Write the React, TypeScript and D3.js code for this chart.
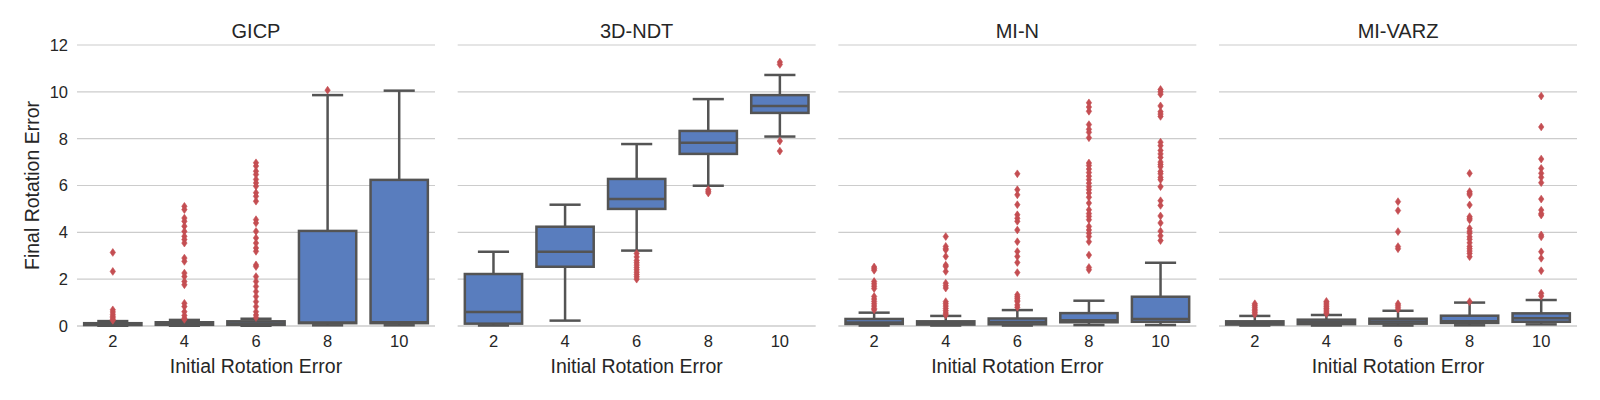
import React from "react";
import * as d3 from "d3";

// ---------- data ----------
const categories = [2, 4, 6, 8, 10];
const methods = ["GICP", "3D-NDT", "MI-N", "MI-VARZ"];
const yTicks = [0, 2, 4, 6, 8, 10, 12];

// stats per category: [whiskerLow, q1, median, q3, whiskerHigh]
const gicpStats = [
  [0.01, 0.04, 0.08, 0.12, 0.21],
  [0.01, 0.05, 0.1, 0.16, 0.26],
  [0.01, 0.05, 0.11, 0.2, 0.31],
  [0.03, 0.12, 0.15, 4.06, 9.86],
  [0.03, 0.12, 0.16, 6.24, 10.05],
];
const gicpOutliers = [
  [3.14, 2.33, 0.69, 0.6, 0.5, 0.42, 0.35, 0.28, 0.24],
  [5.11, 4.97, 4.61, 4.47, 4.26, 4.04, 3.83, 3.69, 3.54, 2.9, 2.76, 2.26, 2.11, 1.9, 1.76, 0.97, 0.83, 0.61, 0.45, 0.33, 0.28],
  [6.97, 6.83, 6.61, 6.47, 6.26, 6.11, 5.97, 5.69, 5.54, 5.33, 4.54, 4.4, 4.04, 3.76, 3.54, 3.33, 3.19, 2.61, 2.54, 2.11, 1.9, 1.69, 1.47, 1.26, 1.04, 0.83, 0.61, 0.47, 0.36],
  [10.07],
  [],
];

const ndtStats = [
  [0.02, 0.1, 0.6, 2.22, 3.17],
  [0.23, 2.53, 3.17, 4.24, 5.18],
  [3.22, 5.0, 5.42, 6.28, 7.77],
  [5.99, 7.35, 7.83, 8.33, 9.69],
  [8.09, 9.1, 9.39, 9.86, 10.72],
];
const ndtOutliers = [
  [],
  [],
  [3.1, 2.95, 2.8, 2.7, 2.6, 2.5, 2.4, 2.3, 2.2, 2.1, 2.0],
  [5.82, 5.75, 5.68],
  [11.27, 11.17, 7.9, 7.47],
];

const minStats = [
  [0.02, 0.085, 0.15, 0.3, 0.57],
  [0.02, 0.06, 0.12, 0.2, 0.43],
  [0.02, 0.07, 0.17, 0.32, 0.68],
  [0.04, 0.16, 0.25, 0.55, 1.08],
  [0.04, 0.18, 0.3, 1.25, 2.7],
];
const minOutliers = [
  [2.52, 2.45, 2.38, 1.9, 1.8, 1.7, 1.6, 1.26, 1.15, 1.05, 0.95, 0.85, 0.75, 0.69],
  [3.82, 3.4, 3.3, 3.25, 2.97, 2.6, 2.54, 2.33, 1.83, 1.72, 1.62, 1.04, 0.95, 0.85, 0.75, 0.65, 0.55, 0.47],
  [6.5, 5.82, 5.6, 5.18, 4.75, 4.6, 4.47, 4.1, 3.6, 3.18, 2.97, 2.71, 2.28, 1.33, 1.25, 1.18, 1.1, 1.04, 0.9, 0.8],
  [9.53, 9.35, 9.17, 8.6, 8.4, 8.27, 8.04, 6.96, 6.85, 6.7, 6.55, 6.4, 6.25, 6.1, 5.95, 5.82, 5.68, 5.5, 5.25, 4.96, 4.8, 4.68, 4.54, 4.25, 4.1, 3.96, 3.82, 3.6, 3.03, 2.5, 2.4],
  [10.1, 10.0, 9.9, 9.4, 9.15, 9.05, 8.95, 7.85, 7.7, 7.5, 7.35, 7.2, 7.0, 6.9, 6.8, 6.6, 6.5, 6.35, 6.25, 5.95, 5.35, 5.15, 4.7, 4.4, 4.05, 3.85, 3.65],
];

const varzStats = [
  [0.02, 0.06, 0.12, 0.2, 0.43],
  [0.02, 0.08, 0.17, 0.27, 0.47],
  [0.02, 0.1, 0.19, 0.31, 0.65],
  [0.03, 0.13, 0.2, 0.44, 1.0],
  [0.07, 0.18, 0.33, 0.54, 1.11],
];
const varzOutliers = [
  [0.95, 0.88, 0.8, 0.72, 0.65, 0.58, 0.5],
  [1.05, 0.98, 0.9, 0.82, 0.75, 0.68, 0.6, 0.53],
  [5.31, 4.93, 4.03, 3.39, 3.3, 0.95, 0.88, 0.8, 0.72],
  [6.52, 5.74, 5.67, 5.6, 5.17, 4.67, 4.6, 4.53, 4.17, 4.05, 3.96, 3.81, 3.7, 3.55, 3.4, 3.3, 3.2, 3.1, 2.96, 1.04],
  [9.82, 8.5, 7.13, 6.73, 6.52, 6.35, 6.12, 5.42, 4.95, 4.8, 4.74, 3.89, 3.81, 3.17, 2.89, 2.36, 1.4, 1.28],
];

const allStats = [gicpStats, ndtStats, minStats, varzStats];
const allOutliers = [gicpOutliers, ndtOutliers, minOutliers, varzOutliers];

// ---------- style ----------
const W = 1600;
const H = 400;
const FONT = "'Liberation Sans', Arial, sans-serif";
const TEXT = "#262626";
const GRID = "#cccccc";
const BOX_FILL = "#597dbe";
const LINE = "#545454";
const FLIER = "#c44e52";
const LW = 2.5;

const plotTop = 45;
const plotBottom = 326;
const panelW = 358;
const firstLeft = 77;
const panelGap = 22.67;

const y = d3.scaleLinear().domain([0, 12]).range([plotBottom, plotTop]);

function diamond(cx: number, cy: number) {
  const hw = 2.7;
  const hh = 3.9;
  return `M${cx},${cy - hh}L${cx + hw},${cy}L${cx},${cy + hh}L${cx - hw},${cy}Z`;
}

function Panel({ idx }: { idx: number }) {
  const left = firstLeft + idx * (panelW + panelGap);
  const x = d3
    .scaleBand<number>()
    .domain(categories)
    .range([left, left + panelW])
    .paddingInner(0)
    .paddingOuter(0);
  const step = x.step();
  const bw = step * 0.8;
  const capW = bw / 2;
  const stats = allStats[idx];
  const outs = allOutliers[idx];
  const cx = (c: number) => (x(c) as number) + step / 2;

  return (
    <g>
      {yTicks.map((t) => (
        <line
          key={"g" + t}
          x1={left}
          x2={left + panelW}
          y1={y(t)}
          y2={y(t)}
          stroke={GRID}
          strokeWidth={t === 0 ? 1.3 : 1.1}
        />
      ))}
      {idx === 0 &&
        yTicks.map((t) => (
          <text
            key={"yt" + t}
            x={left - 9}
            y={y(t)}
            dy="0.36em"
            textAnchor="end"
            fontSize={16.5}
            fill={TEXT}
            fontFamily={FONT}
          >
            {t}
          </text>
        ))}
      {categories.map((c, i) => {
        const [lo, q1, med, q3, hi] = stats[i];
        const m = cx(c);
        return (
          <g key={"b" + c}>
            <line x1={m} x2={m} y1={y(q1)} y2={y(lo)} stroke={LINE} strokeWidth={LW} />
            <line x1={m} x2={m} y1={y(q3)} y2={y(hi)} stroke={LINE} strokeWidth={LW} />
            <line x1={m - capW / 2} x2={m + capW / 2} y1={y(lo)} y2={y(lo)} stroke={LINE} strokeWidth={LW} strokeLinecap="square" />
            <line x1={m - capW / 2} x2={m + capW / 2} y1={y(hi)} y2={y(hi)} stroke={LINE} strokeWidth={LW} strokeLinecap="square" />
            <rect
              x={m - bw / 2}
              y={y(q3)}
              width={bw}
              height={y(q1) - y(q3)}
              fill={BOX_FILL}
              stroke={LINE}
              strokeWidth={LW}
            />
            <line x1={m - bw / 2} x2={m + bw / 2} y1={y(med)} y2={y(med)} stroke={LINE} strokeWidth={LW} />
          </g>
        );
      })}
      {categories.map((c, i) =>
        outs[i].map((v, j) => (
          <path key={"o" + c + "_" + j} d={diamond(cx(c), y(v))} fill={FLIER} stroke={FLIER} strokeWidth={0.6} />
        ))
      )}
      {categories.map((c) => (
        <text
          key={"xt" + c}
          x={cx(c)}
          y={346.5}
          textAnchor="middle"
          fontSize={16.5}
          fill={TEXT}
          fontFamily={FONT}
        >
          {c}
        </text>
      ))}
      <text
        x={left + panelW / 2}
        y={372.5}
        textAnchor="middle"
        fontSize={19.5}
        fill={TEXT}
        fontFamily={FONT}
      >
        Initial Rotation Error
      </text>
      <text
        x={left + panelW / 2}
        y={38.3}
        textAnchor="middle"
        fontSize={20}
        fill={TEXT}
        fontFamily={FONT}
      >
        {methods[idx]}
      </text>
    </g>
  );
}

export default function App() {
  return (
    <svg
      width={W}
      height={H}
      viewBox={`0 0 ${W} ${H}`}
      style={{ position: "absolute", left: 0, top: 0, background: "#fff" }}
    >
      <rect x={0} y={0} width={W} height={H} fill="#fff" />
      {methods.map((m, i) => (
        <Panel key={m} idx={i} />
      ))}
      <text
        transform={`translate(39.3, ${(plotTop + plotBottom) / 2}) rotate(-90)`}
        textAnchor="middle"
        fontSize={19.5}
        fill={TEXT}
        fontFamily={FONT}
      >
        Final Rotation Error
      </text>
    </svg>
  );
}
